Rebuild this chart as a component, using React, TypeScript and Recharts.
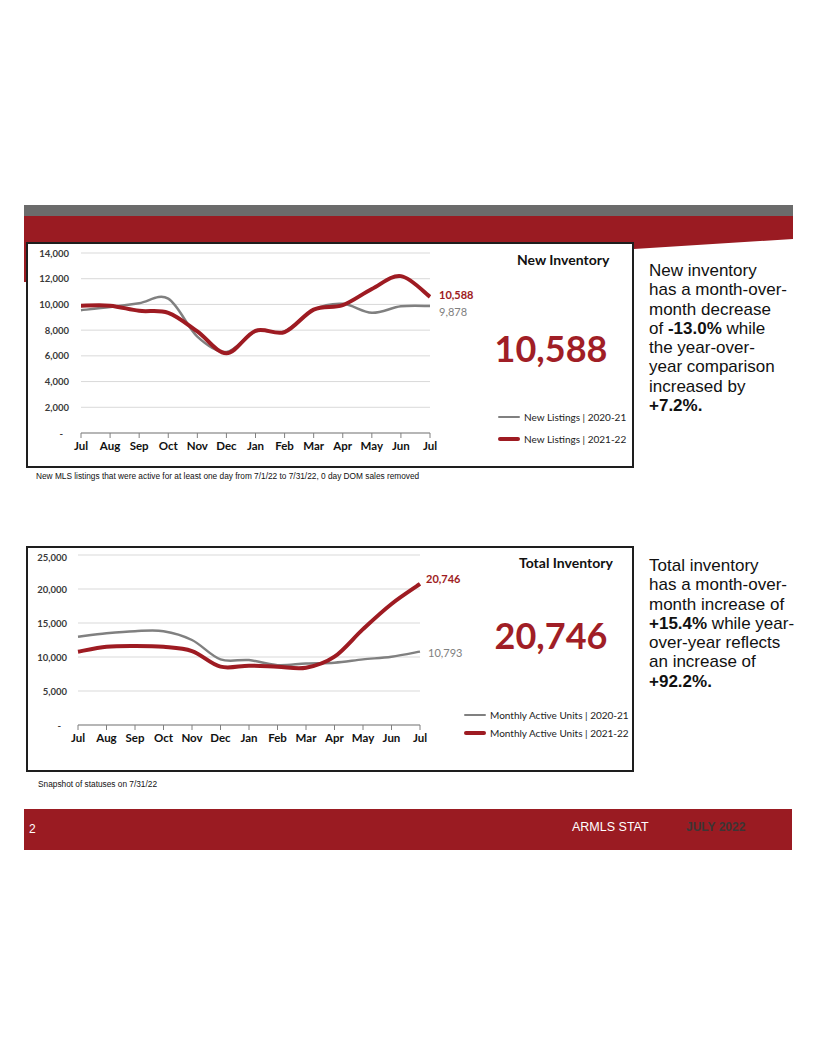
import React from 'react';
import { LineChart, Line, XAxis, YAxis, CartesianGrid } from 'recharts';

// month axis, shared by both charts (Jul 2021 .. Jul 2022)
const MONTHS = ['Jul', 'Aug', 'Sep', 'Oct', 'Nov', 'Dec', 'Jan', 'Feb', 'Mar', 'Apr', 'May', 'Jun', 'Jul'];

// New Inventory
const NEW_LISTINGS_2021 = [9550, 9800, 10100, 10450, 7500, 6300, 7900, 7900, 9600, 10050, 9350, 9850, 9878];
const NEW_LISTINGS_2122 = [9900, 9900, 9500, 9350, 7900, 6200, 7950, 7850, 9600, 9950, 11200, 12200, 10588];
const NEW_TICKS = [0, 2000, 4000, 6000, 8000, 10000, 12000, 14000];

// Total Inventory
const ACTIVE_2021 = [12990, 13480, 13800, 13800, 12500, 9650, 9550, 8800, 9050, 9170, 9650, 10050, 10793];
const ACTIVE_2122 = [10780, 11500, 11620, 11500, 10880, 8580, 8730, 8580, 8430, 10050, 14100, 17800, 20746];
const ACTIVE_TICKS = [0, 5000, 10000, 15000, 20000, 25000];

const RED = '#9e1b22';
const GRAY = '#808080';
const CHART_FONT = 'Lato, "Open Sans", sans-serif';
const TEXT_FONT = '"Liberation Sans", Arial, sans-serif';

const newData = MONTHS.map((m, i) => ({ m, prev: NEW_LISTINGS_2021[i], cur: NEW_LISTINGS_2122[i] }));
const activeData = MONTHS.map((m, i) => ({ m, prev: ACTIVE_2021[i], cur: ACTIVE_2122[i] }));

// Excel-like smoothed line (catmull-rom style bezier)
const smoothCurve = (context: any) => {
  let pts: number[][] = [];
  return {
    areaStart() {},
    areaEnd() {},
    lineStart() {
      pts = [];
    },
    lineEnd() {
      if (!pts.length) return;
      context.moveTo(pts[0][0], pts[0][1]);
      for (let i = 0; i < pts.length - 1; i++) {
        const p0 = pts[i - 1] || pts[i];
        const p1 = pts[i];
        const p2 = pts[i + 1];
        const p3 = pts[i + 2] || p2;
        context.bezierCurveTo(
          p1[0] + (p2[0] - p0[0]) / 6,
          p1[1] + (p2[1] - p0[1]) / 6,
          p2[0] - (p3[0] - p1[0]) / 6,
          p2[1] - (p3[1] - p1[1]) / 6,
          p2[0],
          p2[1]
        );
      }
    },
    point(x: number, y: number) {
      pts.push([+x, +y]);
    },
  };
};

const YTick = (props: any) => {
  const { x, y, payload } = props;
  const v = payload.value;
  return (
    <text
      x={v === 0 ? x - 6 : x}
      y={y}
      dominantBaseline="central"
      textAnchor="end"
      fontFamily={CHART_FONT}
      fontSize={9.5}
      fontWeight={700}
      fill="#3a3a3a"
    >
      {v === 0 ? '-' : v.toLocaleString('en-US')}
    </text>
  );
};

const endLabel = (color: string, bold: boolean, dx: number, dy: number) => (props: any) => {
  if (props.index !== MONTHS.length - 1) return <g key={`e${props.index}`} />;
  return (
    <text
      key="end"
      x={props.x + dx}
      y={props.y + dy}
      dominantBaseline="central"
      fontFamily={CHART_FONT}
      fontSize={11}
      fontWeight={bold ? 700 : 400}
      fill={color}
    >
      {Number(props.value).toLocaleString('en-US')}
    </text>
  );
};

const xTick = { fontFamily: CHART_FONT, fontSize: 11.5, fontWeight: 700, fill: '#111' };

const LegendRow = ({ color, width, label, top, left }: any) => (
  <div style={{ position: 'absolute', left, top: top - 8, height: 16, display: 'flex', alignItems: 'center' }}>
    <div style={{ width: 22, height: width, background: color, borderRadius: 2 }} />
    <span style={{ marginLeft: 4, fontFamily: CHART_FONT, fontSize: 10, color: '#222', whiteSpace: 'nowrap' }}>{label}</span>
  </div>
);

const boxStyle: React.CSSProperties = {
  position: 'absolute',
  left: 26,
  width: 608,
  height: 226,
  border: '2px solid #1e1e1e',
  boxSizing: 'border-box',
  background: '#fff',
  overflow: 'hidden',
};

const sideText: React.CSSProperties = {
  position: 'absolute',
  left: 649,
  fontFamily: TEXT_FONT,
  fontSize: 17,
  lineHeight: '19.3px',
  color: '#111',
  whiteSpace: 'nowrap',
};

const App: React.FC = () => {
  return (
    <div style={{ position: 'absolute', left: 0, top: 0, width: 816, height: 1056, background: '#fff', overflow: 'hidden' }}>
      {/* header bands */}
      <svg style={{ position: 'absolute', left: 0, top: 0 }} width={816} height={300}>
        <rect x={24} y={205} width={769} height={11} fill="#6b6b6b" />
        <polygon points="24,216 793,216 793,239 634,249 600,282 24,282" fill="#9a1b22" />
      </svg>

      {/* New Inventory */}
      <div style={{ ...boxStyle, top: 242 }}>
        <LineChart width={604} height={222} data={newData} margin={{ top: 9, right: 202, bottom: 3, left: 0 }}>
          <CartesianGrid vertical={false} stroke="#d9d9d9" />
          <XAxis
            dataKey="m"
            allowDuplicatedCategory
            interval={0}
            height={30}
            stroke={GRAY}
            tickSize={5}
            tickMargin={4}
            tick={xTick}
          />
          <YAxis
            width={53}
            domain={[0, 14000]}
            ticks={NEW_TICKS}
            axisLine={false}
            tickLine={false}
            tickSize={0}
            tickMargin={12}
            tick={<YTick />}
          />
          <Line
            dataKey="prev"
            name="New Listings | 2020-21"
            type={smoothCurve as any}
            stroke={GRAY}
            strokeWidth={2.5}
            dot={false}
            isAnimationActive={false}
            label={endLabel(GRAY, false, 9, 6)}
          />
          <Line
            dataKey="cur"
            name="New Listings | 2021-22"
            type={smoothCurve as any}
            stroke={RED}
            strokeWidth={4}
            dot={false}
            isAnimationActive={false}
            label={endLabel(RED, true, 9, -2)}
          />
        </LineChart>
        <div style={{ position: 'absolute', left: 489, top: 8, fontFamily: CHART_FONT, fontSize: 14, lineHeight: '16px', fontWeight: 700, color: '#111' }}>
          New Inventory
        </div>
        <div style={{ position: 'absolute', left: 423, width: 200, top: 84, textAlign: 'center', fontFamily: CHART_FONT, fontSize: 36, lineHeight: '40px', fontWeight: 700, color: '#a01e26' }}>
          10,588
        </div>
        <LegendRow color={GRAY} width={2.5} label="New Listings | 2020-21" top={173} left={470} />
        <LegendRow color={RED} width={4} label="New Listings | 2021-22" top={195} left={470} />
      </div>
      <div style={{ ...sideText, top: 261 }}>
        New inventory
        <br />
        has a month-over-
        <br />
        month decrease
        <br />
        of <b>-13.0%</b> while
        <br />
        the year-over-
        <br />
        year comparison
        <br />
        increased by
        <br />
        <b>+7.2%.</b>
      </div>
      <div style={{ position: 'absolute', left: 36, top: 471, fontFamily: TEXT_FONT, fontSize: 8.3, color: '#111', whiteSpace: 'nowrap' }}>
        New MLS listings that were active for at least one day from 7/1/22 to 7/31/22, 0 day DOM sales removed
      </div>

      {/* Total Inventory */}
      <div style={{ ...boxStyle, top: 546 }}>
        <LineChart width={604} height={222} data={activeData} margin={{ top: 7, right: 212, bottom: 15, left: 0 }}>
          <CartesianGrid vertical={false} stroke="#d9d9d9" />
          <XAxis
            dataKey="m"
            allowDuplicatedCategory
            interval={0}
            height={30}
            stroke={GRAY}
            tickSize={5}
            tickMargin={4}
            tick={xTick}
          />
          <YAxis
            width={50}
            domain={[0, 25000]}
            ticks={ACTIVE_TICKS}
            axisLine={false}
            tickLine={false}
            tickSize={0}
            tickMargin={11}
            tick={<YTick />}
          />
          <Line
            dataKey="prev"
            name="Monthly Active Units | 2020-21"
            type={smoothCurve as any}
            stroke={GRAY}
            strokeWidth={2.5}
            dot={false}
            isAnimationActive={false}
            label={endLabel(GRAY, false, 8, 1)}
          />
          <Line
            dataKey="cur"
            name="Monthly Active Units | 2021-22"
            type={smoothCurve as any}
            stroke={RED}
            strokeWidth={4}
            dot={false}
            isAnimationActive={false}
            label={endLabel(RED, true, 6, -5)}
          />
        </LineChart>
        <div style={{ position: 'absolute', left: 491, top: 7, fontFamily: CHART_FONT, fontSize: 14, lineHeight: '16px', fontWeight: 700, color: '#111' }}>
          Total Inventory
        </div>
        <div style={{ position: 'absolute', left: 423, width: 200, top: 67, textAlign: 'center', fontFamily: CHART_FONT, fontSize: 36, lineHeight: '40px', fontWeight: 700, color: '#a01e26' }}>
          20,746
        </div>
        <LegendRow color={GRAY} width={2.5} label="Monthly Active Units | 2020-21" top={167} left={436} />
        <LegendRow color={RED} width={4} label="Monthly Active Units | 2021-22" top={185} left={436} />
      </div>
      <div style={{ ...sideText, top: 556 }}>
        Total inventory
        <br />
        has a month-over-
        <br />
        month increase of
        <br />
        <b>+15.4%</b> while year-
        <br />
        over-year reflects
        <br />
        an increase of
        <br />
        <b>+92.2%.</b>
      </div>
      <div style={{ position: 'absolute', left: 38, top: 779, fontFamily: TEXT_FONT, fontSize: 8.3, color: '#111', whiteSpace: 'nowrap' }}>
        Snapshot of statuses on 7/31/22
      </div>

      {/* footer */}
      <div style={{ position: 'absolute', left: 24, top: 809, width: 768, height: 41, background: '#9a1b22' }}>
        <span style={{ position: 'absolute', left: 5, top: 13, fontFamily: TEXT_FONT, fontSize: 12, color: '#fff' }}>2</span>
        <span style={{ position: 'absolute', left: 548, top: 11, fontFamily: TEXT_FONT, fontSize: 12.5, color: '#fff' }}>ARMLS STAT</span>
        <span style={{ position: 'absolute', left: 662, top: 11, fontFamily: TEXT_FONT, fontSize: 12, fontWeight: 700, color: '#3d3535' }}>JULY 2022</span>
      </div>
    </div>
  );
};

export default App;
